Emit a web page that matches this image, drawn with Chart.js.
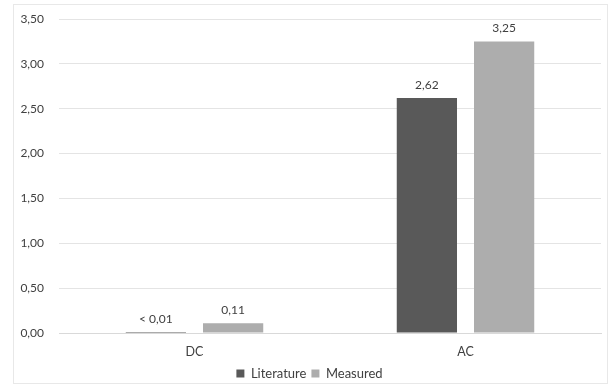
<!DOCTYPE html>
<html>
<head>
<meta charset="utf-8">
<script src="https://cdn.jsdelivr.net/npm/chart.js@4/dist/chart.umd.min.js"></script>
<style>
  html, body { margin: 0; padding: 0; background: #fff; }
  #wrap { position: absolute; left: 13px; top: 4px; width: 595px; height: 380px; border: 1px solid #e8e8e8; box-sizing: border-box; }
  #chart { position: absolute; left: 0; top: 0; }
</style>
</head>
<body>
<div id="wrap"><canvas id="chart" width="595" height="380"></canvas></div>
<script>
const categories = ['DC', 'AC'];
const literature = [0.005, 2.62];
const measured = [0.11, 3.25];
const literatureLabels = ['< 0,01', '2,62'];
const measuredLabels = ['0,11', '3,25'];
const yTicks = [0, 0.5, 1, 1.5, 2, 2.5, 3, 3.5];

const textColor = '#404040';
const fontFamily = "Lato, 'Open Sans', sans-serif";

// draws the value labels above each bar
const valueLabels = {
    id: 'valueLabels',
    afterDatasetsDraw(chart) {
        const ctx = chart.ctx;
        ctx.save();
        ctx.font = `12px ${fontFamily}`;
        ctx.fillStyle = textColor;
        ctx.textAlign = 'center';
        ctx.textBaseline = 'bottom';
        chart.data.datasets.forEach((ds, i) => {
            chart.getDatasetMeta(i).data.forEach((bar, j) => {
                ctx.fillText(ds.valueLabels[j], bar.x, bar.y - 7);
            });
        });
        ctx.restore();
    }
};

new Chart(document.getElementById('chart'), {
    type: 'bar',
    data: {
        labels: categories,
        datasets: [
            { label: 'Literature', data: literature, valueLabels: literatureLabels, backgroundColor: '#595959', minBarLength: 1 },
            { label: 'Measured', data: measured, valueLabels: measuredLabels, backgroundColor: '#adadad' }
        ]
    },
    options: {
        responsive: false,
        animation: false,
        categoryPercentage: 0.57,
        barPercentage: 0.78,
        layout: { padding: { left: 4, right: 8, top: 14, bottom: -5 } },
        scales: {
            x: {
                grid: { display: false },
                border: { color: '#d9d9d9' },
                ticks: { color: textColor, font: { family: fontFamily, size: 12.5 }, padding: 3 }
            },
            y: {
                min: 0, max: 3.5,
                afterFit(scale) {
                    scale.width = 41;
                    scale.paddingTop = 0;
                    scale.paddingBottom = 0;
                },
                afterBuildTicks(scale) { scale.ticks = yTicks.map(v => ({ value: v })); },
                grid: { color: '#e4e4e4', drawTicks: false },
                border: { display: false },
                ticks: {
                    color: textColor,
                    font: { family: fontFamily, size: 12 },
                    padding: 15,
                    callback: v => v.toFixed(2).replace('.', ',')
                }
            }
        },
        plugins: {
            legend: {
                position: 'bottom',
                labels: { boxWidth: 8, boxHeight: 8, color: textColor, font: { family: fontFamily, size: 13 }, padding: 5 }
            },
            tooltip: { enabled: false }
        }
    },
    plugins: [valueLabels]
});
</script>
</body>
</html>
